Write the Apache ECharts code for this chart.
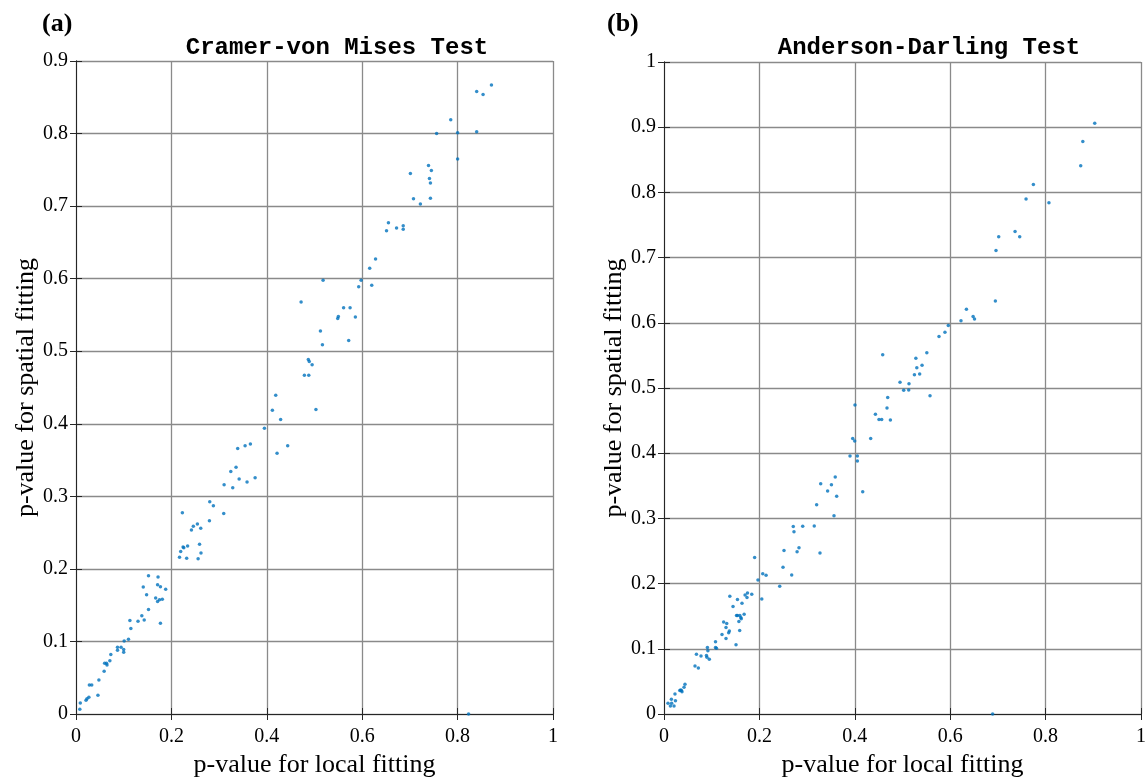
<!DOCTYPE html>
<html>
<head>
<meta charset="utf-8">
<script src="https://cdn.jsdelivr.net/npm/echarts@6/dist/echarts.min.js"></script>
<style>
html,body{margin:0;padding:0;background:#fff;}
#chart{width:1148px;height:777px;}
</style>
</head>
<body>
<div id="chart"></div>
<script>
// ---- data ----
const panelLabels = ['(a)', '(b)'];
const titles = ['Cramer-von Mises Test', 'Anderson-Darling Test'];
const xLabel = 'p-value for local fitting';
const yLabel = 'p-value for spatial fitting';
const xTicks = [0, 0.2, 0.4, 0.6, 0.8, 1];
const leftYTicks = [0, 0.1, 0.2, 0.3, 0.4, 0.5, 0.6, 0.7, 0.8, 0.9];
const rightYTicks = [0, 0.1, 0.2, 0.3, 0.4, 0.5, 0.6, 0.7, 0.8, 0.9, 1];

const cvmLocal = [0.008,0.009,0.021,0.023,0.027,0.028,0.033,0.046,0.048,0.059,0.060,0.064,0.065,0.071,0.073,0.087,0.087,0.0945,0.100,0.100,0.101,0.110,0.115,0.113,0.130,0.138,0.143,0.152,0.141,0.148,0.152,0.172,0.171,0.177,0.188,0.167,0.171,0.175,0.181,0.177,0.217,0.2195,0.2245,0.226,0.234,0.232,0.256,0.259,0.262,0.223,0.242,0.246,0.2545,0.2615,0.2797,0.2804,0.288,0.3097,0.3105,0.3286,0.3245,0.3355,0.342,0.3586,0.3755,0.339,0.3545,0.3656,0.395,0.4215,0.4438,0.4117,0.4187,0.429,0.503,0.4788,0.488,0.487,0.489,0.495,0.5166,0.5124,0.4719,0.5487,0.550,0.561,0.5746,0.5857,0.5717,0.518,0.5927,0.5977,0.620,0.6157,0.628,0.651,0.655,0.672,0.686,0.686,0.701,0.7075,0.722,0.739,0.745,0.741,0.743,0.743,0.756,0.7856,0.800,0.800,0.840,0.840,0.8534,0.871,0.823];
const cvmSpatial = [0.0065,0.015,0.019,0.021,0.023,0.040,0.040,0.026,0.047,0.059,0.070,0.070,0.0675,0.0735,0.082,0.092,0.088,0.092,0.089,0.085,0.1005,0.103,0.118,0.129,0.128,0.1355,0.1295,0.144,0.175,0.1645,0.1905,0.1887,0.178,0.1755,0.172,0.160,0.155,0.1575,0.158,0.125,0.216,0.224,0.230,0.229,0.2314,0.2145,0.214,0.234,0.222,0.2774,0.2535,0.2586,0.2618,0.256,0.2664,0.2926,0.287,0.2765,0.316,0.312,0.3343,0.340,0.324,0.3196,0.3256,0.366,0.3697,0.372,0.394,0.3595,0.3697,0.4188,0.4394,0.406,0.4197,0.467,0.467,0.4886,0.4858,0.4813,0.509,0.528,0.568,0.545,0.548,0.560,0.560,0.547,0.5147,0.5978,0.589,0.5978,0.591,0.6143,0.627,0.666,0.677,0.670,0.673,0.668,0.745,0.710,0.703,0.756,0.749,0.738,0.732,0.711,0.800,0.819,0.801,0.765,0.8026,0.858,0.854,0.867,0.0];

const adLocal = [0.0084,0.0134,0.0155,0.016,0.021,0.024,0.023,0.033,0.035,0.0377,0.0365,0.042,0.044,0.065,0.072,0.068,0.0776,0.089,0.090,0.095,0.091,0.092,0.108,0.110,0.108,0.1216,0.125,0.1315,0.130,0.130,0.1356,0.137,0.151,0.138,0.1447,0.154,0.1635,0.152,0.154,0.159,0.161,0.162,0.168,0.157,0.1587,0.170,0.175,0.174,0.184,0.190,0.197,0.207,0.214,0.205,0.2426,0.2495,0.2516,0.2677,0.279,0.283,0.327,0.271,0.2725,0.2908,0.315,0.3564,0.320,0.343,0.3285,0.351,0.359,0.362,0.390,0.4054,0.4054,0.4166,0.3956,0.3998,0.4004,0.4333,0.4432,0.4507,0.4564,0.4675,0.469,0.4746,0.4585,0.5025,0.513,0.4948,0.5136,0.5577,0.525,0.536,0.530,0.541,0.528,0.551,0.5765,0.589,0.596,0.6226,0.634,0.648,0.651,0.6947,0.696,0.7017,0.736,0.7457,0.759,0.7744,0.807,0.8736,0.878,0.903,0.689];
const adSpatial = [0.0164,0.0123,0.0225,0.0164,0.0123,0.0205,0.0307,0.036,0.037,0.034,0.036,0.041,0.0455,0.0736,0.0706,0.0916,0.089,0.0896,0.087,0.084,0.102,0.097,0.102,0.1008,0.111,0.1218,0.141,0.1387,0.1325,0.1157,0.1248,0.1273,0.1064,0.1805,0.165,0.1755,0.170,0.151,0.151,0.151,0.148,0.146,0.153,0.1417,0.128,0.1825,0.1856,0.1785,0.1836,0.240,0.2055,0.215,0.2127,0.1764,0.196,0.225,0.2506,0.213,0.249,0.255,0.247,0.2874,0.2797,0.2879,0.2884,0.304,0.321,0.342,0.3533,0.3518,0.3635,0.334,0.3957,0.3957,0.388,0.341,0.4224,0.4187,0.474,0.4224,0.4597,0.4515,0.4515,0.4693,0.4853,0.4509,0.551,0.4965,0.497,0.509,0.5067,0.488,0.5205,0.5215,0.531,0.535,0.5455,0.554,0.5788,0.5854,0.5957,0.6033,0.6207,0.6095,0.6058,0.6334,0.711,0.732,0.740,0.732,0.790,0.812,0.784,0.841,0.878,0.906,0.0];

// ---- chart ----
const chart = echarts.init(document.getElementById('chart'));
const serif = '"Liberation Serif", "DejaVu Serif", serif';
const mono = '"Liberation Mono", "DejaVu Sans Mono", monospace';
const axisCol = '#262626';
const gridCol = '#8a8a8a';
const dotCol = '#0072BD';

const grids = [
  {left: 76, top: 61, width: 477, height: 653, containLabel:false, outerBoundsMode:'none'},
  {left: 664, top: 62, width: 477, height: 652, containLabel:false, outerBoundsMode:'none'}
];

function fmt(v){ return String(Math.round(v*10)/10); }

function mainX(gi){
  return {
    type:'value', gridIndex: gi, min: xTicks[0], max: xTicks[xTicks.length-1], interval: 0.2,
    position:'bottom',
    name: xLabel, nameLocation:'middle', nameGap: 38,
    nameTextStyle:{fontFamily: serif, fontSize: 26, color:'#000'},
    axisLine:{show:true, lineStyle:{color: axisCol, width:1}},
    axisTick:{show:true, inside:true, length:6, lineStyle:{color: axisCol}},
    axisLabel:{show:true, margin:13, fontFamily: serif, fontSize: 20, color:'#000', formatter: fmt},
    splitLine:{show:true, lineStyle:{color: gridCol, width:1.3}}
  };
}
function topX(gi){
  return {
    type:'value', gridIndex: gi, min: xTicks[0], max: xTicks[xTicks.length-1], interval: 0.2,
    position:'top',
    axisLine:{show:true, lineStyle:{color: axisCol, width:1}},
    axisTick:{show:true, inside:true, length:6, lineStyle:{color: axisCol}},
    axisLabel:{show:false}, splitLine:{show:false}
  };
}
function mainY(gi, ticks){
  return {
    type:'value', gridIndex: gi, min: ticks[0], max: ticks[ticks.length-1], interval: 0.1,
    position:'left',
    name: yLabel, nameLocation:'middle', nameGap: 36, nameRotate: 90,
    nameTextStyle:{fontFamily: serif, fontSize: 26, color:'#000'},
    axisLine:{show:true, lineStyle:{color: axisCol, width:1}},
    axisTick:{show:true, inside:true, length:6, lineStyle:{color: axisCol}},
    axisLabel:{show:true, margin:8, fontFamily: serif, fontSize: 20, color:'#000', formatter: fmt},
    splitLine:{show:true, lineStyle:{color: gridCol, width:1.3}}
  };
}
function rightY(gi, ticks){
  return {
    type:'value', gridIndex: gi, min: ticks[0], max: ticks[ticks.length-1], interval: 0.1,
    position:'right',
    axisLine:{show:true, lineStyle:{color: axisCol, width:1}},
    axisTick:{show:true, inside:true, length:6, lineStyle:{color: axisCol}},
    axisLabel:{show:false}, splitLine:{show:false}
  };
}

const option = {
  backgroundColor:'#fff',
  animation:false,
  grid: grids,
  title: [
    {text: panelLabels[0], left: 37, top: 6, textStyle:{fontFamily: serif, fontWeight:'bold', fontSize: 26, color:'#000'}},
    {text: panelLabels[1], left: 602, top: 6, textStyle:{fontFamily: serif, fontWeight:'bold', fontSize: 26, color:'#000'}},
    {text: titles[0], left: 332, top: 31, textAlign:'center', textStyle:{fontFamily: mono, fontWeight:'bold', fontSize: 24, color:'#000'}},
    {text: titles[1], left: 924, top: 31, textAlign:'center', textStyle:{fontFamily: mono, fontWeight:'bold', fontSize: 24, color:'#000'}}
  ],
  xAxis: [mainX(0), topX(0), mainX(1), topX(1)],
  yAxis: [mainY(0, leftYTicks), rightY(0, leftYTicks), mainY(1, rightYTicks), rightY(1, rightYTicks)],
  series: [
    {type:'scatter', xAxisIndex:0, yAxisIndex:0, symbol:'circle', symbolSize:3.5, clip:false,
     itemStyle:{color: dotCol}, data: cvmLocal.map((x,i)=>[x, cvmSpatial[i]])},
    {type:'scatter', xAxisIndex:2, yAxisIndex:2, symbol:'circle', symbolSize:3.5, clip:false,
     itemStyle:{color: dotCol}, data: adLocal.map((x,i)=>[x, adSpatial[i]])}
  ]
};
chart.setOption(option);
</script>
</body>
</html>
